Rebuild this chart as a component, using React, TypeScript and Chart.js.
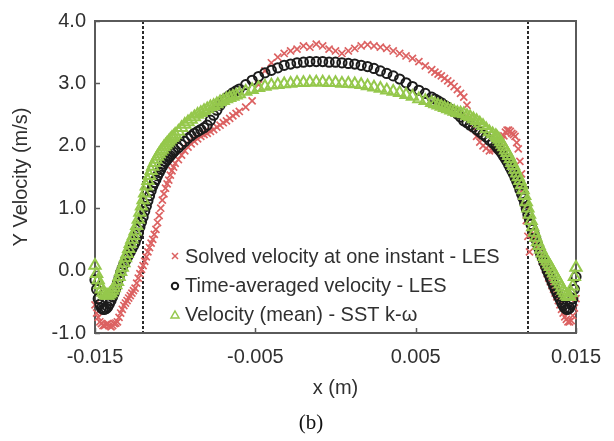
import React, { useEffect, useRef } from "react";
import { Chart, registerables } from "chart.js";

Chart.register(...registerables);

// x positions (m)
const xPositions = [
  -0.0150, -0.0149, -0.0148, -0.0147, -0.0146, -0.0145, -0.0144, -0.0143, -0.0142, -0.0141,
  -0.0140, -0.0139, -0.0138, -0.0137, -0.0136, -0.0135, -0.0134, -0.0133, -0.0132, -0.0131,
  -0.0130, -0.0129, -0.0128, -0.0127, -0.0126, -0.0125, -0.0124, -0.0123, -0.0122, -0.0121,
  -0.0120, -0.0119, -0.0118, -0.0117, -0.0116, -0.0115, -0.0114, -0.0113, -0.0112, -0.0111,
  -0.0110, -0.0109, -0.0108, -0.0107, -0.0106, -0.0105, -0.0104, -0.0103, -0.0102, -0.0101,
  -0.0100,
  -0.0098, -0.0096, -0.0094, -0.0092, -0.0090, -0.0088, -0.0086, -0.0084, -0.0082, -0.0080,
  -0.0078, -0.0076, -0.0074, -0.0072, -0.0070, -0.0068, -0.0066, -0.0064, -0.0062,
  -0.0060, -0.0056, -0.0052, -0.0048, -0.0044, -0.0040, -0.0036, -0.0032, -0.0028, -0.0024,
  -0.0020, -0.0016, -0.0012, -0.0008, -0.0004, 0.0,
  0.0004, 0.0008, 0.0012, 0.0016, 0.0020, 0.0024, 0.0028, 0.0032, 0.0036, 0.0040,
  0.0044, 0.0048, 0.0052, 0.0056, 0.0060,
  0.0062, 0.0064, 0.0066, 0.0068, 0.0070, 0.0072, 0.0074, 0.0076, 0.0078, 0.0080,
  0.0082, 0.0084, 0.0086, 0.0088, 0.0090, 0.0092, 0.0094, 0.0096, 0.0098,
  0.0100, 0.0101, 0.0102, 0.0103, 0.0104, 0.0105, 0.0106, 0.0107, 0.0108, 0.0109,
  0.0110, 0.0111, 0.0112, 0.0113, 0.0114, 0.0115, 0.0116, 0.0117, 0.0118, 0.0119,
  0.0120, 0.0121, 0.0122, 0.0123, 0.0124, 0.0125, 0.0126, 0.0127, 0.0128, 0.0129,
  0.0130, 0.0131, 0.0132, 0.0133, 0.0134, 0.0135, 0.0136, 0.0137, 0.0138, 0.0139,
  0.0140, 0.0141, 0.0142, 0.0143, 0.0144, 0.0145, 0.0146, 0.0147, 0.0148, 0.0149,
  0.0150,
];

// Solved velocity at one instant - LES (m/s)
const instantLES = [
  -0.55, -0.68, -0.75, -0.82, -0.85, -0.88, -0.88, -0.86, -0.85, -0.88,
  -0.90, -0.88, -0.85, -0.84, -0.82, -0.75, -0.68, -0.62, -0.56, -0.52,
  -0.48, -0.44, -0.40, -0.36, -0.32, -0.28, -0.20, -0.12, -0.05, 0.02,
  0.08, 0.15, 0.22, 0.30, 0.37, 0.44, 0.50, 0.58, 0.66, 0.77,
  0.88, 1.00, 1.13, 1.23, 1.32, 1.39, 1.45, 1.53, 1.60, 1.66,
  1.72,
  1.78, 1.85, 1.92, 1.98, 2.03, 2.07, 2.11, 2.15, 2.18, 2.20,
  2.23, 2.26, 2.30, 2.33, 2.37, 2.40, 2.44, 2.48, 2.52,
  2.55, 2.62, 2.72, 2.98, 3.20, 3.33, 3.42, 3.48, 3.52, 3.55,
  3.60, 3.58, 3.63, 3.60, 3.55, 3.52,
  3.48, 3.52, 3.56, 3.60, 3.62, 3.60, 3.58, 3.56, 3.52, 3.48,
  3.44, 3.40, 3.35, 3.28, 3.22,
  3.18, 3.15, 3.12, 3.08, 3.04, 3.00, 2.95, 2.90, 2.84, 2.78,
  2.65, 2.45, 2.28, 2.15, 2.06, 2.00, 1.96, 1.92, 1.93,
  1.95, 1.97, 2.00, 2.05, 2.10, 2.16, 2.22, 2.25, 2.25, 2.23,
  2.20, 2.18, 2.15, 2.05, 1.95, 1.75, 1.55, 1.30, 1.05, 0.80,
  0.55, 0.30, 0.62, 0.58, 0.52, 0.45, 0.38, 0.30, 0.22, 0.15,
  0.08, 0.02, -0.05, -0.12, -0.18, -0.24, -0.30, -0.36, -0.42, -0.48,
  -0.55, -0.62, -0.68, -0.74, -0.78, -0.82, -0.82, -0.80, -0.72, -0.60,
  -0.45,
];

// Time-averaged velocity - LES (m/s)
const timeAveragedLES = [
  -0.15, -0.30, -0.45, -0.54, -0.60, -0.62, -0.62, -0.61, -0.58, -0.53,
  -0.48, -0.42, -0.36, -0.28, -0.20, -0.12, -0.03, 0.04, 0.10, 0.15,
  0.20, 0.25, 0.30, 0.35, 0.40, 0.45, 0.52, 0.60, 0.70, 0.78,
  0.86, 0.95, 1.03, 1.12, 1.20, 1.28, 1.35, 1.41, 1.46, 1.52,
  1.57, 1.62, 1.67, 1.71, 1.75, 1.78, 1.81, 1.84, 1.87, 1.90,
  1.93,
  1.97, 2.02, 2.07, 2.12, 2.16, 2.20, 2.23, 2.26, 2.29, 2.33,
  2.41, 2.49, 2.57, 2.65, 2.72, 2.77, 2.81, 2.85, 2.88,
  2.91, 2.98, 3.05, 3.11, 3.17, 3.21, 3.25, 3.29, 3.31, 3.33,
  3.34, 3.35, 3.35, 3.35, 3.34, 3.34,
  3.33, 3.32, 3.31, 3.29, 3.27, 3.24, 3.20, 3.16, 3.12, 3.07,
  3.01, 2.95, 2.89, 2.84, 2.78,
  2.75, 2.72, 2.69, 2.65, 2.62, 2.58, 2.55, 2.51, 2.46, 2.40,
  2.37, 2.33, 2.30, 2.26, 2.22, 2.18, 2.14, 2.09, 2.05,
  2.00, 1.97, 1.94, 1.91, 1.87, 1.83, 1.79, 1.75, 1.70, 1.65,
  1.60, 1.55, 1.49, 1.43, 1.37, 1.30, 1.23, 1.16, 1.08, 0.99,
  0.90, 0.82, 0.74, 0.66, 0.58, 0.50, 0.42, 0.35, 0.27, 0.20,
  0.13, 0.07, 0.00, -0.06, -0.12, -0.18, -0.24, -0.30, -0.35, -0.41,
  -0.46, -0.51, -0.56, -0.60, -0.62, -0.62, -0.60, -0.54, -0.45, -0.30,
  -0.10,
];

// Velocity (mean) - SST k-omega (m/s)
const sstMean = [
  0.08, -0.05, -0.15, -0.23, -0.30, -0.35, -0.38, -0.40, -0.40, -0.38,
  -0.36, -0.32, -0.28, -0.23, -0.18, -0.10, -0.02, 0.05, 0.12, 0.20,
  0.27, 0.35, 0.43, 0.50, 0.56, 0.63, 0.72, 0.82, 0.93, 1.03,
  1.13, 1.24, 1.35, 1.44, 1.52, 1.60, 1.67, 1.73, 1.78, 1.83,
  1.87, 1.91, 1.94, 1.98, 2.01, 2.04, 2.07, 2.10, 2.13, 2.15,
  2.18,
  2.23, 2.29, 2.34, 2.38, 2.42, 2.46, 2.50, 2.53, 2.56, 2.59,
  2.62, 2.64, 2.67, 2.70, 2.72, 2.75, 2.77, 2.79, 2.81,
  2.83, 2.87, 2.90, 2.93, 2.95, 2.97, 2.98, 2.99, 3.00, 3.01,
  3.01, 3.02, 3.02, 3.02, 3.01, 3.01,
  3.00, 3.00, 2.99, 2.98, 2.96, 2.94, 2.92, 2.89, 2.87, 2.85,
  2.82, 2.79, 2.75, 2.72, 2.69,
  2.67, 2.65, 2.63, 2.61, 2.59, 2.57, 2.55, 2.53, 2.52, 2.51,
  2.48, 2.46, 2.43, 2.40, 2.36, 2.32, 2.27, 2.22, 2.19,
  2.16, 2.13, 2.10, 2.06, 2.02, 1.98, 1.93, 1.89, 1.84, 1.79,
  1.73, 1.68, 1.62, 1.56, 1.50, 1.44, 1.37, 1.29, 1.20, 1.10,
  1.00, 0.90, 0.80, 0.70, 0.61, 0.53, 0.46, 0.40, 0.34, 0.28,
  0.22, 0.19, 0.15, 0.10, 0.06, 0.01, -0.04, -0.08, -0.13, -0.17,
  -0.22, -0.27, -0.32, -0.36, -0.40, -0.42, -0.42, -0.36, -0.25, -0.10,
  0.05,
];

const seriesNames = [
  "Solved velocity at one instant - LES",
  "Time-averaged velocity - LES",
  "Velocity (mean) - SST k-\u03c9",
];
const xTickValues = [-0.015, -0.005, 0.005, 0.015];
const xTickLabels = ["-0.015", "-0.005", "0.005", "0.015"];
const yTickValues = [-1, 0, 1, 2, 3, 4];
const yTickLabels = ["-1.0", "0.0", "1.0", "2.0", "3.0", "4.0"];
const wallLines = [-0.012, 0.012];
const xAxisTitle = "x (m)";
const yAxisTitle = "Y Velocity (m/s)";
const caption = "(b)";

const FONT = "'Liberation Sans', Arial, sans-serif";
const SERIF = "'Liberation Serif', 'Times New Roman', serif";
const TEXT = "#303030";
const AXIS = "#5a5a5a";
const RED = "#dc6262";
const BLACK = "#1c1c1c";
const GREEN = "#95c84c";

const decor = {
  id: "decor",
  beforeDatasetsDraw(chart: any) {
    const { ctx, chartArea: a, scales } = chart;
    const xs = scales.x;
    const ys = scales.y;
    ctx.save();
    ctx.strokeStyle = "#2a2a2a";
    ctx.lineWidth = 2;
    ctx.setLineDash([3, 2]);
    wallLines.forEach((v) => {
      const px = Math.round(xs.getPixelForValue(v));
      ctx.beginPath();
      ctx.moveTo(px, a.top);
      ctx.lineTo(px, a.bottom);
      ctx.stroke();
    });
    ctx.setLineDash([]);
    ctx.strokeStyle = AXIS;
    ctx.lineWidth = 2;
    ctx.strokeRect(a.left, a.top, a.right - a.left, a.bottom - a.top);
    ctx.lineWidth = 1.5;
    yTickValues.forEach((v) => {
      const py = Math.round(ys.getPixelForValue(v)) + 0.5;
      ctx.beginPath();
      ctx.moveTo(a.left, py);
      ctx.lineTo(a.left + 5, py);
      ctx.stroke();
    });
    xTickValues.forEach((v) => {
      const px = Math.round(xs.getPixelForValue(v)) + 0.5;
      ctx.beginPath();
      ctx.moveTo(px, a.bottom);
      ctx.lineTo(px, a.bottom - 5);
      ctx.stroke();
    });
    ctx.restore();
  },
  afterDraw(chart: any) {
    const { ctx, chartArea: a } = chart;
    ctx.save();
    ctx.fillStyle = TEXT;
    ctx.font = `20px ${FONT}`;
    ctx.textAlign = "center";
    ctx.textBaseline = "middle";
    ctx.fillText(xAxisTitle, (a.left + a.right) / 2, a.bottom + 55);
    ctx.save();
    ctx.translate(21.5, (a.top + a.bottom) / 2);
    ctx.rotate(-Math.PI / 2);
    ctx.fillText(yAxisTitle, 0, 0);
    ctx.restore();

    // legend inside the plot
    const lx = a.left + 80;
    const rows = [a.bottom - 77, a.bottom - 48, a.bottom - 19];
    ctx.textAlign = "left";
    rows.forEach((ry, i) => {
      ctx.fillStyle = TEXT;
      ctx.fillText(seriesNames[i], lx + 10, ry + 1);
      ctx.lineWidth = 1.5;
      if (i === 0) {
        ctx.strokeStyle = RED;
        ctx.beginPath();
        ctx.moveTo(lx - 3, ry - 3);
        ctx.lineTo(lx + 3, ry + 3);
        ctx.moveTo(lx + 3, ry - 3);
        ctx.lineTo(lx - 3, ry + 3);
        ctx.stroke();
      } else if (i === 1) {
        ctx.strokeStyle = BLACK;
        ctx.lineWidth = 2;
        ctx.beginPath();
        ctx.arc(lx, ry + 1, 3.2, 0, Math.PI * 2);
        ctx.stroke();
      } else {
        ctx.strokeStyle = GREEN;
        ctx.beginPath();
        ctx.moveTo(lx, ry - 3);
        ctx.lineTo(lx + 4, ry + 4);
        ctx.lineTo(lx - 4, ry + 4);
        ctx.closePath();
        ctx.stroke();
      }
    });

    ctx.fillStyle = "#111";
    ctx.font = `21px ${SERIF}`;
    ctx.textAlign = "center";
    ctx.fillText(caption, 311, 423);
    ctx.restore();
  },
};

export default function App() {
  const canvasRef = useRef<HTMLCanvasElement | null>(null);

  useEffect(() => {
    if (!canvasRef.current) return;
    const mk = (vals: number[]) => xPositions.map((x, i) => ({ x, y: vals[i] }));
    const chart = new Chart(canvasRef.current, {
      type: "scatter",
      data: {
        datasets: [
          {
            label: seriesNames[0],
            data: mk(instantLES),
            pointStyle: "crossRot",
            pointRadius: 5,
            borderWidth: 1.7,
            borderColor: RED,
            backgroundColor: RED,
            order: 3,
            clip: false,
          },
          {
            label: seriesNames[1],
            data: mk(timeAveragedLES),
            pointStyle: "circle",
            pointRadius: 4.6,
            borderWidth: 2,
            borderColor: BLACK,
            backgroundColor: "rgba(0,0,0,0)",
            order: 2,
            clip: false,
          },
          {
            label: seriesNames[2],
            data: mk(sstMean),
            pointStyle: "triangle",
            pointRadius: 6.5,
            borderWidth: 2,
            borderColor: GREEN,
            backgroundColor: "rgba(0,0,0,0)",
            order: 1,
            clip: false,
          },
        ] as any,
      },
      options: {
        animation: false,
        responsive: false,
        maintainAspectRatio: false,
        events: [],
        layout: { padding: { left: 0, right: 38, top: 14, bottom: 0 } },
        plugins: { legend: { display: false }, tooltip: { enabled: false } },
        scales: {
          x: {
            type: "linear",
            min: -0.015,
            max: 0.015,
            grid: { display: false, drawTicks: false },
            border: { display: false },
            afterBuildTicks: (s: any) => {
              s.ticks = xTickValues.map((v) => ({ value: v }));
            },
            afterFit: (s: any) => {
              s.height = 108;
            },
            ticks: {
              autoSkip: false,
              maxRotation: 0,
              padding: 12,
              color: TEXT,
              font: { family: FONT, size: 20 },
              callback: (_v: any, i: number) => xTickLabels[i],
            },
          },
          y: {
            type: "linear",
            min: -1,
            max: 4,
            grid: { display: false, drawTicks: false },
            border: { display: false },
            afterBuildTicks: (s: any) => {
              s.ticks = yTickValues.map((v) => ({ value: v }));
            },
            afterFit: (s: any) => {
              s.width = 95;
            },
            ticks: {
              autoSkip: false,
              padding: 9,
              color: TEXT,
              font: { family: FONT, size: 20 },
              callback: (_v: any, i: number) => yTickLabels[i],
            },
          },
        },
      } as any,
      plugins: [decor],
    });
    return () => chart.destroy();
  }, []);

  return (
    <div style={{ position: "fixed", left: 0, top: 0, width: 614, height: 441, background: "#fff" }}>
      <canvas ref={canvasRef} width={614} height={441} style={{ display: "block", width: 614, height: 441 }} />
    </div>
  );
}
